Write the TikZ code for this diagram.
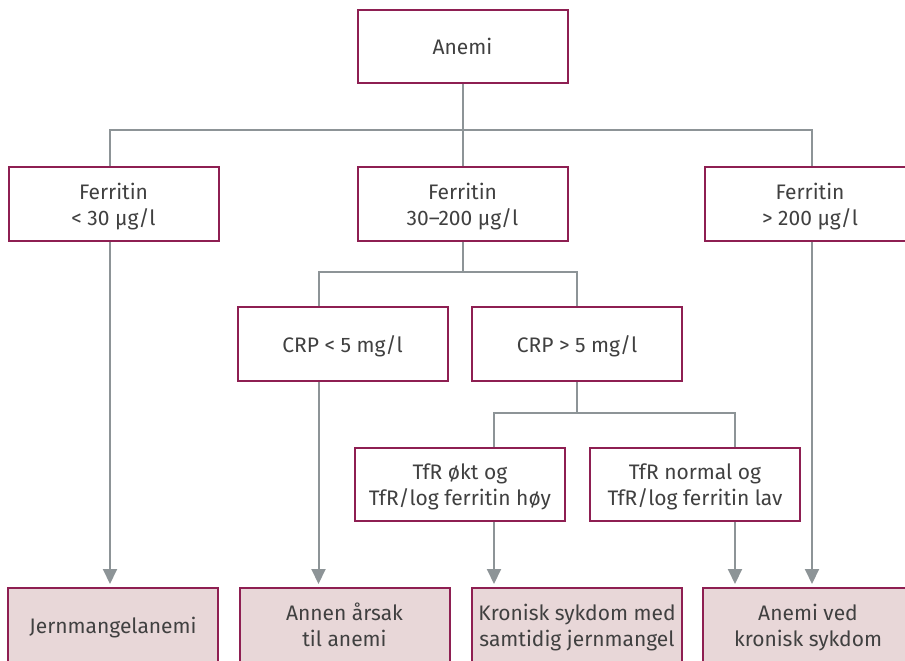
\documentclass[tikz,border=0pt]{standalone}
\usepackage{fontspec}
\setmainfont{Fira Sans}
\usetikzlibrary{arrows.meta}
\definecolor{boxborder}{HTML}{8E1F52}
\definecolor{boxfill}{HTML}{E8D7D8}
\definecolor{linegrey}{HTML}{8D9497}
\definecolor{txt}{HTML}{404040}
\tikzset{
  box/.style={draw=boxborder, line width=2pt, fill=white, rectangle,
    minimum width=210pt, minimum height=74pt, align=center, inner sep=0pt,
    text=txt, font=\fontsize{21}{26}\selectfont, text depth=-3pt},
  result/.style={box, fill=boxfill},
  conn/.style={draw=linegrey, line width=2pt},
  arr/.style={conn, -{Triangle[length=15pt,width=14pt]}, shorten >=3pt},
}
\begin{document}
\begin{tikzpicture}[x=1pt,y=-1pt]
\useasboundingbox (0,0) rectangle (905,661);
\clip (0,0) rectangle (905,661);
% column coordinates
\coordinate (c1) at (110,0);
\coordinate (c2) at (318.5,0);
\coordinate (c3) at (494,0);
\coordinate (c4) at (735,0);
\coordinate (c5) at (812,0);
\coordinate (j1) at (462.5,130);
\coordinate (j2) at (462.5,272);
\coordinate (j3) at (577,413);

\node[box, minimum height=73pt] (anemi) at (462.5,46.5) {Anemi};
\node[box] (f1) at (113.5,204) {Ferritin\\ < 30 µg/l};
\node[box] (f2) at (462.5,204) {Ferritin\\ 30–200 µg/l};
\node[box] (f3) at (810,204) {Ferritin\\ > 200 µg/l};
\node[box] (crp1) at (342.5,344) {CRP < 5 mg/l};
\node[box] (crp2) at (577,344) {CRP > 5 mg/l};
\node[box, minimum height=73pt] (t1) at (460,484.5) {TfR økt og\\ TfR/log ferritin høy};
\node[box, minimum height=73pt] (t2) at (695,484.5) {TfR normal og\\ TfR/log ferritin lav};
\node[result] (b1) at (113,625) {Jernmangelanemi};
\node[result] (b2) at (344.5,625) {Annen årsak\\ til anemi};
\node[result] (b3) at (577,625) {Kronisk sykdom med\\ samtidig jernmangel};
\node[result] (b4) at (808,625) {Anemi ved\\ kronisk sykdom};

\draw[conn] (anemi.south) -- (f2.north);
\draw[conn] (f1.north -| c1) |- (j1) -| (f3.north -| c5);
\draw[conn] (f2.south) -- (j2);
\draw[conn] (crp1.north -| c2) |- (j2) -| (crp2.north);
\draw[conn] (crp2.south) -- (j3);
\draw[conn] (t1.north -| c3) |- (j3) -| (t2.north -| c4);
\draw[arr] (f1.south -| c1) -- (b1.north -| c1);
\draw[arr] (crp1.south -| c2) -- (b2.north -| c2);
\draw[arr] (t1.south -| c3) -- (b3.north -| c3);
\draw[arr] (t2.south -| c4) -- (b4.north -| c4);
\draw[arr] (f3.south -| c5) -- (b4.north -| c5);
\end{tikzpicture}
\end{document}
